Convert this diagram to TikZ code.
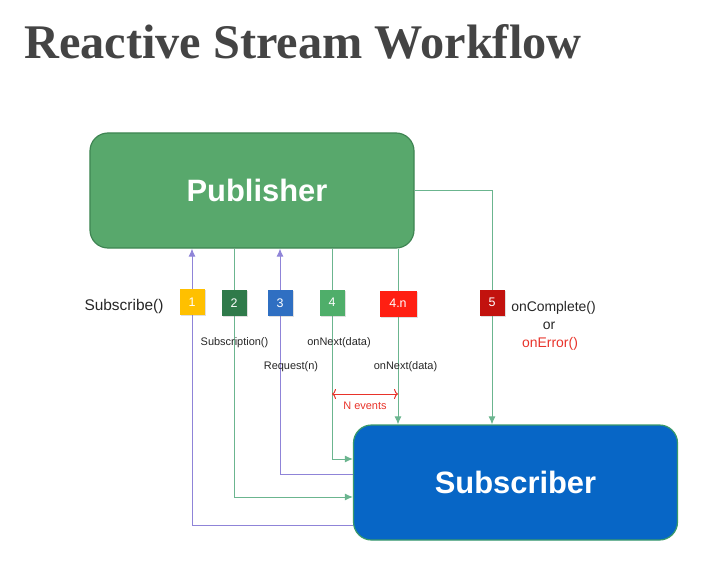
\documentclass[tikz,border=0pt]{standalone}
\usepackage{fontspec}
\setmainfont{Liberation Sans}
\newfontfamily\titlefont{Liberation Serif}
\usepackage{tikz}
\usetikzlibrary{arrows.meta,backgrounds,shadows}

\definecolor{pubgreen}{HTML}{58A86C}
\definecolor{pubedge}{HTML}{3F8553}
\definecolor{subblue}{HTML}{0766C6}
\definecolor{subedge}{HTML}{3A9A6A}
\definecolor{purpline}{HTML}{8F84D8}
\definecolor{greenline}{HTML}{6BB58F}
\definecolor{evred}{HTML}{E8332A}
\definecolor{titlegray}{HTML}{444444}
\definecolor{oneyellow}{HTML}{FFC000}
\definecolor{twogreen}{HTML}{2F7A4A}
\definecolor{threeblue}{HTML}{2F6FC2}
\definecolor{fourgreen}{HTML}{4FAE6A}
\definecolor{fournred}{HTML}{FF1F12}
\definecolor{fivered}{HTML}{C2120E}

\tikzset{
	bigbox/.style={draw, line width=1.2pt, rounded corners=18bp, minimum width=324bp, minimum height=115bp, text=white, font=\fontsize{31}{34}\selectfont\bfseries},
	numbox/.style={minimum width=25bp, minimum height=26bp, inner sep=0pt, text=white, font=\fontsize{12.5}{14}\selectfont, drop shadow={shadow xshift=1.2pt, shadow yshift=-1.2pt, opacity=0.25}},
	lbl/.style={inner sep=0pt, text=black!85, font=\fontsize{11}{13}\selectfont},
	purpwire/.style={draw=purpline, line width=1pt, -{Latex[length=8bp,width=7bp]}},
	greenwire/.style={draw=greenline, line width=1pt, -{Latex[length=8bp,width=7bp]}}
}

\begin{document}
\begin{tikzpicture}[x=1bp, y=-1bp]
			\useasboundingbox (0,0) rectangle (719,578);
			% Title:
			\node[anchor=base west, inner sep=0pt, text=titlegray, font={\titlefont\bfseries\fontsize{48.5}{54}\selectfont}] (title) at (24,59) {Reactive Stream Workflow};
			% Boxes:
			\node[bigbox, fill=pubgreen, draw=pubedge] (pub) at (252,190.5) {\hspace{10bp}Publisher};
			\node[bigbox, fill=subblue, draw=subedge] (sub) at (515.5,482.5) {Subscriber};
			% Steps:
			\node[numbox, fill=oneyellow] (n1) at (192,302) {1};
			\node[numbox, fill=twogreen] (n2) at (234,303) {2};
			\node[numbox, fill=threeblue] (n3) at (280,303) {3};
			\node[numbox, fill=fourgreen] (n4) at (332,302.5) {4};
			\node[numbox, fill=fournred, minimum width=37bp] (n4n) at (398,303.5) {4.n};
			\node[numbox, fill=fivered] (n5) at (492,302.5) {5};
			% Wires:
			\begin{scope}[on background layer]
				\draw[purpwire] (sub.west |- 0,525) -| (n1 |- pub.south);
				\draw[greenwire] (n2 |- pub.south) |- (sub.west |- 0,497);
				\draw[purpwire] (sub.west |- 0,474) -| (n3 |- pub.south);
				\draw[greenwire] (n4 |- pub.south) |- (sub.west |- 0,459);
				\draw[greenwire] (n4n |- pub.south) -- (n4n |- sub.north);
				\draw[greenwire] (pub.east) -| (n5 |- sub.north);
			\end{scope}
			% Labels:
			\node[lbl, font=\fontsize{15.5}{18}\selectfont] (subscribe) at (124,307) {Subscribe()};
			\node[lbl] (subscription) at (234.5,343) {Subscription()};
			\node[lbl] (request) at (291,367) {Request(n)};
			\node[lbl] (onnext) at (339,343) {onNext(data)};
			\node[lbl] (onnextn) at (405.5,367) {onNext(data)};
			\node[lbl, font=\fontsize{14}{16}\selectfont] (complete) at (553.5,308) {onComplete()};
			\node[lbl, font=\fontsize{14}{16}\selectfont] (or) at (549,326) {or};
			\node[lbl, font=\fontsize{14}{16}\selectfont, text=evred] (error) at (550,344) {onError()};
			\node[lbl, text=evred] (nevents) at (365,406) {N events};
			\draw[evred, line width=1pt, {To[length=4bp,width=10bp]}-{To[length=4bp,width=10bp]}] (n4 |- 0,394) -- (n4n |- 0,394);
		\end{tikzpicture}
\end{document}
